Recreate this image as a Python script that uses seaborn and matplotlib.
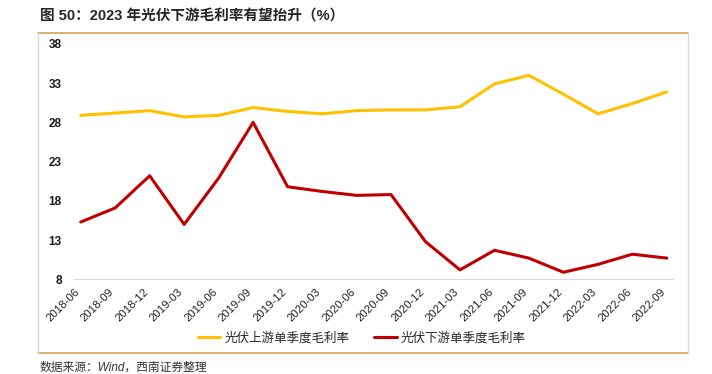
import numpy as np
import pandas as pd
import matplotlib.pyplot as plt
import matplotlib.transforms as mtransforms
from matplotlib.lines import Line2D
import seaborn as sns

QUARTERS = ["2018-06", "2018-09", "2018-12", "2019-03", "2019-06", "2019-09",
            "2019-12", "2020-03", "2020-06", "2020-09", "2020-12", "2021-03",
            "2021-06", "2021-09", "2021-12", "2022-03", "2022-06", "2022-09"]
UPSTREAM = [28.9, 29.2, 29.5, 28.7, 28.9, 29.9, 29.4, 29.1, 29.5, 29.6,
            29.6, 30.0, 32.9, 34.0, 31.6, 29.1, 30.4, 31.9]
DOWNSTREAM = [15.3, 17.1, 21.2, 15.0, 20.9, 28.0, 19.8, 19.2, 18.7, 18.8,
              12.8, 9.2, 11.7, 10.7, 8.9, 9.9, 11.2, 10.7]
SERIES = ["光伏上游单季度毛利率", "光伏下游单季度毛利率"]
COLORS = ["#FFC000", "#C00000"]
YTICKS = [8, 13, 18, 23, 28, 33, 38]

df = pd.DataFrame({
    "x": list(range(len(QUARTERS))) * 2,
    "value": UPSTREAM + DOWNSTREAM,
    "series": [SERIES[0]] * len(QUARTERS) + [SERIES[1]] * len(QUARTERS),
})

sns.set_style("white")
plt.rcParams["font.family"] = ["Liberation Sans", "Noto Sans CJK SC"]

fig = plt.figure(figsize=(7.12, 3.74), dpi=100)
ax = fig.add_axes([0.1044, 0.2532, 0.8404, 0.6292])

sns.lineplot(data=df, x="x", y="value", hue="series", palette=COLORS,
             linewidth=2.2, legend=False, ax=ax)

ax.set_xlim(-0.185, 17.17)
ax.set_ylim(8, 38)
ax.set_yticks(YTICKS)
ax.set_yticklabels([str(t) for t in YTICKS], fontsize=8.5, color="#1a1a1a",
                   fontweight="semibold")
ax.set_xticks(np.arange(len(QUARTERS)) - 0.185)
ax.set_xticklabels(QUARTERS, rotation=45, ha="right", rotation_mode="anchor",
                   fontsize=8.2, color="#222222")
offset = mtransforms.ScaledTranslation(9 / 72, -2 / 72, fig.dpi_scale_trans)
for lab in ax.get_xticklabels():
    lab.set_transform(lab.get_transform() + offset)
ax.set_xlabel("")
ax.set_ylabel("")
for side in ["top", "right", "left"]:
    ax.spines[side].set_visible(False)
ax.spines["bottom"].set_color("#D9D9D9")
ax.tick_params(axis="x", length=3, color="#D9D9D9", pad=2)
ax.tick_params(axis="y", length=0, pad=9)

# frame lines around the chart
ox0, ox1 = 38 / 712, 688 / 712
oy1, oy0 = 1 - 33 / 374, 1 - 352.5 / 374
fig.add_artist(Line2D([ox0, ox1], [oy1, oy1], color="#D4A253", lw=1.2))
fig.add_artist(Line2D([ox0, ox1], [oy0, oy0], color="#D4A253", lw=1.2))
fig.add_artist(Line2D([ox0, ox0], [oy0, oy1], color="#D9D9D9", lw=1))
fig.add_artist(Line2D([ox1, ox1], [oy0, oy1], color="#D9D9D9", lw=1))

handles = [Line2D([], [], color=c, lw=2.2) for c in COLORS]
fig.legend(handles, SERIES, loc="center", bbox_to_anchor=(0.508, 1 - 338 / 374),
           ncol=2, frameon=False, fontsize=9, handlelength=1.8,
           handletextpad=0.3, columnspacing=2.0)

fig.text(40 / 712, 1 - 17 / 374, "图 50：2023 年光伏下游毛利率有望抬升（%）",
         fontsize=10.5, fontweight="bold", va="center", ha="left")
fig.text(40 / 712, 1 - 368 / 374, "数据来源：Wind，西南证券整理",
         fontsize=8.5, style="italic", va="center", ha="left", color="#333333")

fig.savefig("out.png", dpi=100)
